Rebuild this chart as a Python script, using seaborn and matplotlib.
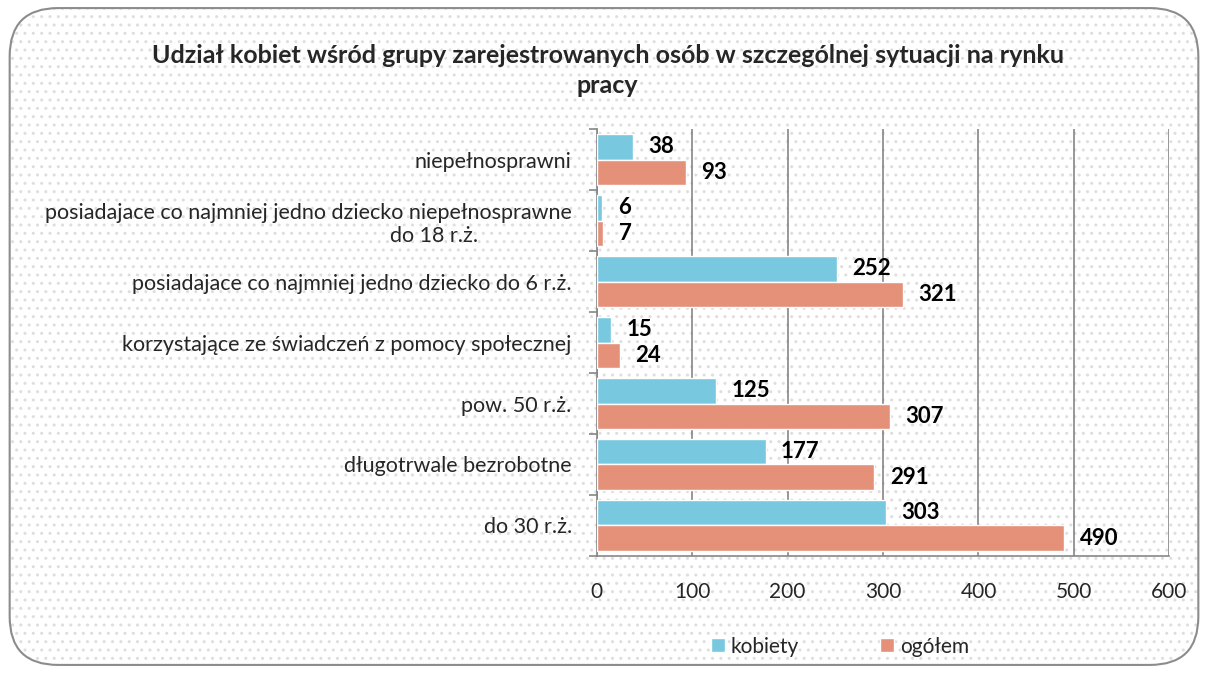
import pandas as pd
import seaborn as sns
import matplotlib.pyplot as plt
from matplotlib.patches import FancyBboxPatch
from matplotlib.ticker import FixedLocator

# data (top category first)
categories = [
    'niepełnosprawni',
    'posiadajace co najmniej jedno dziecko niepełnosprawne\ndo 18 r.ż.' + ' ' * 17,
    'posiadajace co najmniej jedno dziecko do 6 r.ż.',
    'korzystające ze świadczeń z pomocy społecznej',
    'pow. 50 r.ż.',
    'długotrwale bezrobotne',
    'do 30 r.ż.',
]
kobiety = [38, 6, 252, 15, 125, 177, 303]
ogolem = [93, 7, 321, 24, 307, 291, 490]
series = ['kobiety', 'ogółem']
colors = ['#78C8E0', '#E5917A']

df = pd.DataFrame({
    'kategoria': categories * 2,
    'seria': [series[0]] * len(categories) + [series[1]] * len(categories),
    'liczba': kobiety + ogolem,
})

sns.set_theme(style='white')
plt.rcParams['font.family'] = ['Lato', 'DejaVu Sans']

fig = plt.figure(figsize=(12.08, 6.73), dpi=100)

# dotted background and rounded frame
bg = FancyBboxPatch((0.008, 0.012), 0.984, 0.976, boxstyle='round,pad=0,rounding_size=0.04',
                    transform=fig.transFigure, facecolor='white', edgecolor='#DEDEDE',
                    hatch='..', linewidth=0, zorder=-10, mutation_aspect=1208 / 673)
fig.patches.append(bg)
frame = FancyBboxPatch((0.008, 0.012), 0.984, 0.976, boxstyle='round,pad=0,rounding_size=0.04',
                       transform=fig.transFigure, facecolor='none', edgecolor='#8C8C8C',
                       linewidth=1.5, zorder=-9, mutation_aspect=1208 / 673)
fig.patches.append(frame)

ax = fig.add_axes([0.494, 0.174, 0.474, 0.634])
ax.patch.set_alpha(0)

sns.barplot(data=df, y='kategoria', x='liczba', hue='seria', orient='h',
            palette=colors, width=0.84, ax=ax, saturation=1, zorder=3)

for cont in ax.containers:
    ax.bar_label(cont, padding=11, fontsize=16, fontweight='bold', color='black')

ax.set_xlim(0, 600)
ax.set_ylim(len(categories) - 0.5, -0.5)
ax.set_xticks(range(0, 601, 100))
ax.xaxis.grid(True, color='#868686', linewidth=1.2, zorder=0)
ax.yaxis.grid(False)
ax.set_xlabel('')
ax.set_ylabel('')

for s in ['top', 'right']:
    ax.spines[s].set_visible(False)
for s in ['left', 'bottom']:
    ax.spines[s].set_color('#868686')
    ax.spines[s].set_linewidth(1.2)

ax.tick_params(axis='x', which='major', length=6, color='#868686', width=1.2,
               labelsize=15, pad=13)
ax.tick_params(axis='y', which='major', length=0, labelsize=15.5, pad=18)
ax.yaxis.set_minor_locator(FixedLocator([i - 0.5 for i in range(len(categories) + 1)]))
ax.tick_params(axis='y', which='minor', length=6, color='#868686', width=1.2, left=True)
for lbl in ax.get_yticklabels():
    lbl.set_multialignment('right')

fig.suptitle('Udział kobiet wśród grupy zarejestrowanych osób w szczególnej sytuacji na rynku\npracy',
             x=0.503, y=0.935, fontsize=18, fontweight='bold', linespacing=1.4)

ax.legend(loc='upper center', bbox_to_anchor=(0.425, -0.145),
          ncol=2, frameon=False, fontsize=15, handlelength=0.65, handleheight=0.65,
          columnspacing=3.9, handletextpad=0.3)

fig.savefig('out.png', dpi=100)
